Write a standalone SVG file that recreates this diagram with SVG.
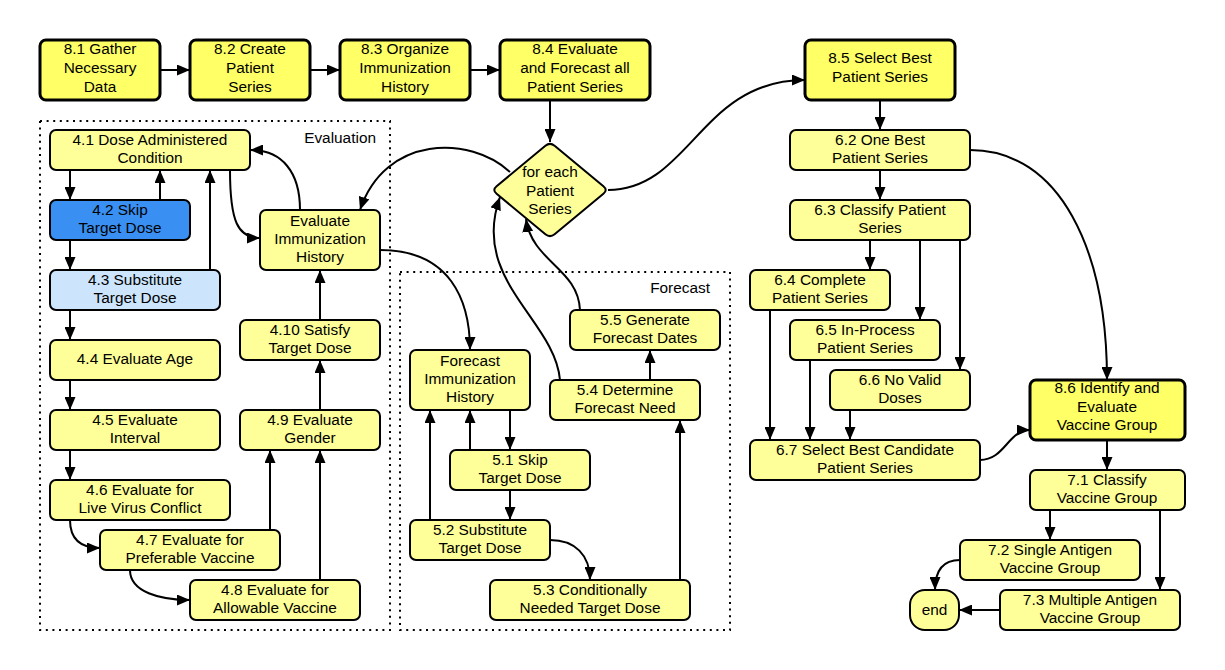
<svg xmlns="http://www.w3.org/2000/svg" width="1225" height="670" viewBox="0 0 1225 670">
  <defs>
    <marker id="arrow" markerUnits="userSpaceOnUse" markerWidth="13" markerHeight="11" refX="13" refY="5.5" orient="auto">
      <path d="M0,0 L13,5.5 L0,11 Z" fill="#000"/>
    </marker>
    <style>
      .node { fill: #ffff99; stroke: #000; stroke-width: 2; }
      .main { fill: #ffff66; stroke: #000; stroke-width: 3; }
      .blue { fill: #3a90f2; stroke: #000; stroke-width: 2; }
      .pale { fill: #cce5fd; stroke: #000; stroke-width: 2; }
      .frame { fill: none; stroke: #000; stroke-width: 2; stroke-dasharray: 2 4.6; }
      text { font-family: "Liberation Sans", Arial, sans-serif; font-size: 15.4px; fill: #000; text-anchor: middle; }
      .lbl { text-anchor: end; }
      .c { fill: none; stroke: #000; stroke-width: 2; marker-end: url(#arrow); }
    </style>
  </defs>
  <rect width="1225" height="670" fill="#fff"/>

  <!-- grouping frames -->
  <g id="frames">
    <rect class="frame" x="40" y="121" width="350" height="509"/>
    <text class="lbl" x="376" y="143">Evaluation</text>
    <rect class="frame" x="400" y="272" width="330" height="358"/>
    <text class="lbl" x="710" y="293">Forecast</text>
  </g>

  <!-- connectors -->
  <g id="connectors">
    <line class="c" x1="160" y1="70" x2="190" y2="70"/>
    <line class="c" x1="310" y1="70" x2="340" y2="70"/>
    <line class="c" x1="470" y1="70" x2="500" y2="70"/>
    <line class="c" x1="550" y1="100" x2="550" y2="142"/>
    <path class="c" d="M608,190 C690,190 700,80 805,80"/>
    <path class="c" d="M510,172 C470,135 385,135 360,210"/>

    <!-- evaluation -->
    <line class="c" x1="70" y1="170" x2="70" y2="200"/>
    <line class="c" x1="160" y1="200" x2="160" y2="170"/>
    <line class="c" x1="70" y1="240" x2="70" y2="270"/>
    <line class="c" x1="210" y1="270" x2="210" y2="170"/>
    <path class="c" d="M230,170 C230,222 238,238 260,238"/>
    <path class="c" d="M300,210 C300,172 282,150 250,150"/>
    <line class="c" x1="70" y1="310" x2="70" y2="340"/>
    <line class="c" x1="70" y1="380" x2="70" y2="410"/>
    <line class="c" x1="70" y1="450" x2="70" y2="480"/>
    <path class="c" d="M70,520 C70,540 82,548 100,548"/>
    <path class="c" d="M130,570 C130,592 160,600 190,600"/>
    <line class="c" x1="270" y1="530" x2="270" y2="450"/>
    <line class="c" x1="320" y1="580" x2="320" y2="450"/>
    <line class="c" x1="320" y1="410" x2="320" y2="360"/>
    <line class="c" x1="320" y1="320" x2="320" y2="270"/>

    <!-- forecast -->
    <path class="c" d="M380,250 C450,250 470,300 470,350"/>
    <line class="c" x1="510" y1="410" x2="510" y2="450"/>
    <line class="c" x1="470" y1="450" x2="470" y2="410"/>
    <line class="c" x1="430" y1="520" x2="430" y2="410"/>
    <line class="c" x1="510" y1="490" x2="510" y2="520"/>
    <path class="c" d="M550,540 C575,540 590,555 590,580"/>
    <line class="c" x1="680" y1="580" x2="680" y2="420"/>
    <line class="c" x1="650" y1="380" x2="650" y2="350"/>
    <path class="c" d="M560,380 C555,320 470,280 500,197"/>
    <path class="c" d="M580,310 C578,268 532,262 526,219"/>

    <!-- patient series selection -->
    <line class="c" x1="880" y1="100" x2="880" y2="130"/>
    <line class="c" x1="880" y1="170" x2="880" y2="200"/>
    <path class="c" d="M970,150 C1060,150 1107,250 1107,380"/>
    <line class="c" x1="870" y1="240" x2="870" y2="270"/>
    <line class="c" x1="920" y1="240" x2="920" y2="320"/>
    <line class="c" x1="960" y1="240" x2="960" y2="370"/>
    <line class="c" x1="770" y1="310" x2="770" y2="440"/>
    <line class="c" x1="810" y1="360" x2="810" y2="440"/>
    <line class="c" x1="850" y1="410" x2="850" y2="440"/>
    <path class="c" d="M980,460 C1005,460 1008,430 1030,430"/>
    <line class="c" x1="1107" y1="440" x2="1107" y2="470"/>
    <line class="c" x1="1050" y1="510" x2="1050" y2="540"/>
    <line class="c" x1="1160" y1="510" x2="1160" y2="590"/>
    <path class="c" d="M960,560 C942,560 935,572 935,590"/>
    <line class="c" x1="1000" y1="610" x2="959" y2="610"/>
  </g>

  <!-- nodes -->
  <g id="n81"><rect class="main" x="40" y="40" width="120" height="60" rx="6"/>
    <text x="100" y="54">8.1 Gather</text><text x="100" y="73">Necessary</text><text x="100" y="92">Data</text></g>
  <g id="n82"><rect class="main" x="190" y="40" width="120" height="60" rx="6"/>
    <text x="250" y="54">8.2 Create</text><text x="250" y="73">Patient</text><text x="250" y="92">Series</text></g>
  <g id="n83"><rect class="main" x="340" y="40" width="130" height="60" rx="6"/>
    <text x="405" y="54">8.3 Organize</text><text x="405" y="73">Immunization</text><text x="405" y="92">History</text></g>
  <g id="n84"><rect class="main" x="500" y="40" width="150" height="60" rx="6"/>
    <text x="575" y="54">8.4 Evaluate</text><text x="575" y="73">and Forecast all</text><text x="575" y="92">Patient Series</text></g>
  <g id="n85"><rect class="main" x="805" y="40" width="150" height="60" rx="6"/>
    <text x="880" y="63">8.5 Select Best</text><text x="880" y="82">Patient Series</text></g>

  <g id="loop">
    <path class="node" d="M496.6,186.2 L545.4,145.8 Q550,142 554.6,145.8 L603.4,186.2 Q608,190 603.4,193.8 L554.6,234.2 Q550,238 545.4,234.2 L496.6,193.8 Q492,190 496.6,186.2 Z"/>
    <text x="550" y="177">for each</text><text x="550" y="196">Patient</text><text x="550" y="214">Series</text></g>

  <g id="n41"><rect class="node" x="50" y="130" width="200" height="40" rx="6"/>
    <text x="150" y="145">4.1 Dose Administered</text><text x="150" y="163">Condition</text></g>
  <g id="n42"><rect class="blue" x="50" y="200" width="140" height="40" rx="6"/>
    <text x="120" y="215">4.2 Skip</text><text x="120" y="233">Target Dose</text></g>
  <g id="n43"><rect class="pale" x="50" y="270" width="170" height="40" rx="6"/>
    <text x="135" y="285">4.3 Substitute</text><text x="135" y="303">Target Dose</text></g>
  <g id="eih"><rect class="node" x="260" y="210" width="120" height="60" rx="6"/>
    <text x="320" y="226">Evaluate</text><text x="320" y="244">Immunization</text><text x="320" y="262">History</text></g>
  <g id="n44"><rect class="node" x="50" y="340" width="170" height="40" rx="6"/>
    <text x="135" y="364">4.4 Evaluate Age</text></g>
  <g id="n45"><rect class="node" x="50" y="410" width="170" height="40" rx="6"/>
    <text x="135" y="425">4.5 Evaluate</text><text x="135" y="443">Interval</text></g>
  <g id="n46"><rect class="node" x="50" y="480" width="180" height="40" rx="6"/>
    <text x="140" y="495">4.6 Evaluate for</text><text x="140" y="513">Live Virus Conflict</text></g>
  <g id="n47"><rect class="node" x="100" y="530" width="180" height="40" rx="6"/>
    <text x="190" y="545">4.7 Evaluate for</text><text x="190" y="563">Preferable Vaccine</text></g>
  <g id="n48"><rect class="node" x="190" y="580" width="170" height="40" rx="6"/>
    <text x="275" y="595">4.8 Evaluate for</text><text x="275" y="613">Allowable Vaccine</text></g>
  <g id="n49"><rect class="node" x="240" y="410" width="140" height="40" rx="6"/>
    <text x="310" y="425">4.9 Evaluate</text><text x="310" y="443">Gender</text></g>
  <g id="n410"><rect class="node" x="240" y="320" width="140" height="40" rx="6"/>
    <text x="310" y="335">4.10 Satisfy</text><text x="310" y="353">Target Dose</text></g>

  <g id="fih"><rect class="node" x="410" y="350" width="120" height="60" rx="6"/>
    <text x="470" y="366">Forecast</text><text x="470" y="384">Immunization</text><text x="470" y="402">History</text></g>
  <g id="n51"><rect class="node" x="450" y="450" width="140" height="40" rx="6"/>
    <text x="520" y="465">5.1 Skip</text><text x="520" y="483">Target Dose</text></g>
  <g id="n52"><rect class="node" x="410" y="520" width="140" height="40" rx="6"/>
    <text x="480" y="535">5.2 Substitute</text><text x="480" y="553">Target Dose</text></g>
  <g id="n53"><rect class="node" x="490" y="580" width="200" height="40" rx="6"/>
    <text x="590" y="595">5.3 Conditionally</text><text x="590" y="613">Needed Target Dose</text></g>
  <g id="n54"><rect class="node" x="550" y="380" width="150" height="40" rx="6"/>
    <text x="625" y="395">5.4 Determine</text><text x="625" y="413">Forecast Need</text></g>
  <g id="n55"><rect class="node" x="570" y="310" width="150" height="40" rx="6"/>
    <text x="645" y="325">5.5 Generate</text><text x="645" y="343">Forecast Dates</text></g>

  <g id="n62"><rect class="node" x="790" y="130" width="180" height="40" rx="6"/>
    <text x="880" y="145">6.2 One Best</text><text x="880" y="163">Patient Series</text></g>
  <g id="n63"><rect class="node" x="790" y="200" width="180" height="40" rx="6"/>
    <text x="880" y="215">6.3 Classify Patient</text><text x="880" y="233">Series</text></g>
  <g id="n64"><rect class="node" x="750" y="270" width="140" height="40" rx="6"/>
    <text x="820" y="285">6.4 Complete</text><text x="820" y="303">Patient Series</text></g>
  <g id="n65"><rect class="node" x="790" y="320" width="150" height="40" rx="6"/>
    <text x="865" y="335">6.5 In-Process</text><text x="865" y="353">Patient Series</text></g>
  <g id="n66"><rect class="node" x="830" y="370" width="140" height="40" rx="6"/>
    <text x="900" y="385">6.6 No Valid</text><text x="900" y="403">Doses</text></g>
  <g id="n67"><rect class="node" x="750" y="440" width="230" height="40" rx="6"/>
    <text x="865" y="455">6.7 Select Best Candidate</text><text x="865" y="473">Patient Series</text></g>
  <g id="n86"><rect class="main" x="1030" y="380" width="155" height="60" rx="6"/>
    <text x="1107" y="393">8.6 Identify and</text><text x="1107" y="412">Evaluate</text><text x="1107" y="430">Vaccine Group</text></g>
  <g id="n71"><rect class="node" x="1030" y="470" width="155" height="40" rx="6"/>
    <text x="1107" y="485">7.1 Classify</text><text x="1107" y="503">Vaccine Group</text></g>
  <g id="n72"><rect class="node" x="960" y="540" width="180" height="40" rx="6"/>
    <text x="1050" y="555">7.2 Single Antigen</text><text x="1050" y="573">Vaccine Group</text></g>
  <g id="n73"><rect class="node" x="1000" y="590" width="180" height="40" rx="6"/>
    <text x="1090" y="605">7.3 Multiple Antigen</text><text x="1090" y="623">Vaccine Group</text></g>
  <g id="end"><rect class="node" x="910" y="590" width="49" height="40" rx="15"/>
    <text x="934.5" y="615">end</text></g>
</svg>
